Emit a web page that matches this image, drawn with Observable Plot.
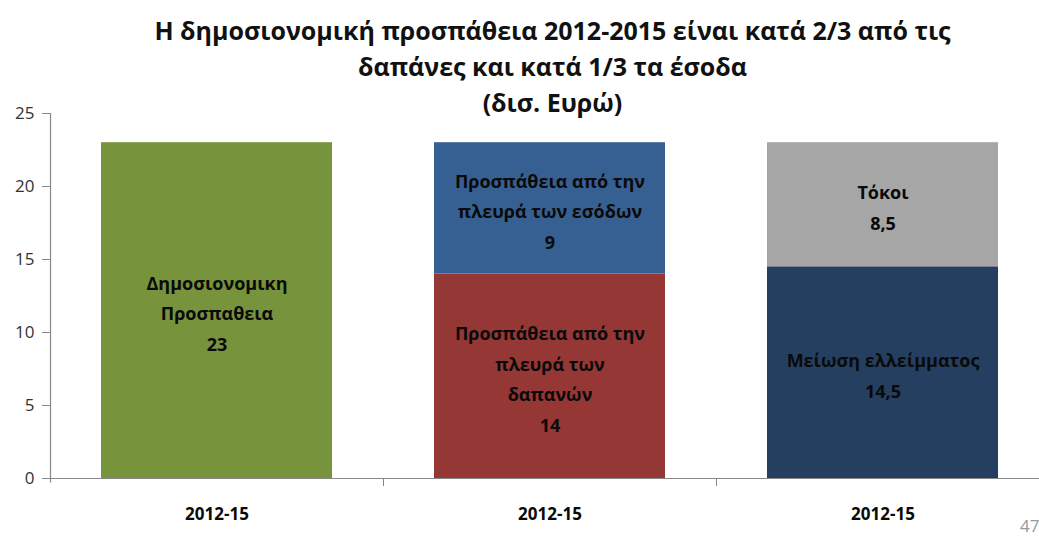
<!DOCTYPE html>
<html><head><meta charset="utf-8">
<script src="https://cdn.jsdelivr.net/npm/d3@7"></script>
<script src="https://cdn.jsdelivr.net/npm/@observablehq/plot@0.6"></script>
<style>
body{margin:0;background:#fff;}
#wrap{position:relative;width:1039px;height:536px;overflow:hidden;}
#chart{position:absolute;left:0;top:0;}
#title{position:absolute;top:12px;left:0;width:1105px;text-align:center;font-family:"Liberation Sans Narrow","Open Sans",sans-serif;font-weight:bold;font-size:25px;line-height:36px;color:#111;}
#page{position:absolute;left:1020px;top:514px;font-family:"Open Sans",sans-serif;font-size:17px;color:#999;}
</style></head><body>
<div id="wrap"><div id="chart"></div>
<div id="title">Η δημοσιονομική προσπάθεια 2012-2015 είναι κατά 2/3 από τις<br>δαπάνες και κατά 1/3 τα έσοδα<br>(δισ. Ευρώ)</div>
<div id="page">47</div></div>
<script>
const groups = ["g1", "g2", "g3"];
const groupLabels = ["2012-15", "2012-15", "2012-15"];
const segGroup = ["g1", "g2", "g2", "g3", "g3"];
const segSeries = ["Δημοσιονομικη Προσπαθεια", "Δαπάνες", "Έσοδα", "Μείωση ελλείμματος", "Τόκοι"];
const segLabels = ["Δημοσιονομικη\nΠροσπαθεια", "Προσπάθεια από την\nπλευρά των\nδαπανών", "Προσπάθεια από την\nπλευρά των εσόδων", "Μείωση ελλείμματος", "Τόκοι"];
const segValues = [23, 14, 9, 14.5, 8.5];
const valueLabels = ["23", "14", "9", "14,5", "8,5"];
const yTicks = [0, 5, 10, 15, 20, 25];

const palette = ["#77933C", "#953735", "#376092", "#243F60", "#A6A6A6"];

const data = segValues.map((v, i) => ({
  group: segGroup[i], series: segSeries[i], value: v,
  text: segLabels[i] + "\n" + valueLabels[i]
}));

const font = "'Open Sans', sans-serif";
const chart = Plot.plot({
  width: 1039, height: 536,
  marginTop: 113, marginBottom: 58, marginLeft: 50, marginRight: 0,
  style: {fontFamily: font, background: "#fff"},
  x: {domain: groups, range: [50, 1049], paddingInner: 0, paddingOuter: 0},
  y: {domain: [0, 25]},
  color: {domain: segSeries, range: palette},
  marks: [
    Plot.barY(data, {x: "group", y: "value", fill: "series", insetLeft: 51, insetRight: 51, order: null}),
    Plot.text(data, Plot.stackY({x: "group", y: "value", text: "text", order: null,
      fontSize: 18, fontWeight: "bold", lineHeight: 1.7, fill: "#0a0a0a", fontFamily: font})),
    Plot.ruleY([0], {stroke: "#888", strokeWidth: 1.2}),
    Plot.ruleX([groups[1], groups[2]], {x: d => d, y1: 0, y2: -0.55, stroke: "#888", dx: -166.5}),
    Plot.axisY({ticks: yTicks, tickSize: 8, tickPadding: 8, fontSize: 17, color: "#333", stroke: "#888", label: null}),
    Plot.ruleX([0], {x: () => groups[0], y1: -0.3, y2: 25, stroke: "#888", strokeWidth: 1.2, dx: -166.5}),
    Plot.axisX({tickSize: 0, tickPadding: 29, fontSize: 17, fontWeight: "bold", color: "#0a0a0a",
      tickFormat: d => groupLabels[groups.indexOf(d)], label: null})
  ]
});
document.getElementById("chart").appendChild(chart);
</script>
</body></html>
